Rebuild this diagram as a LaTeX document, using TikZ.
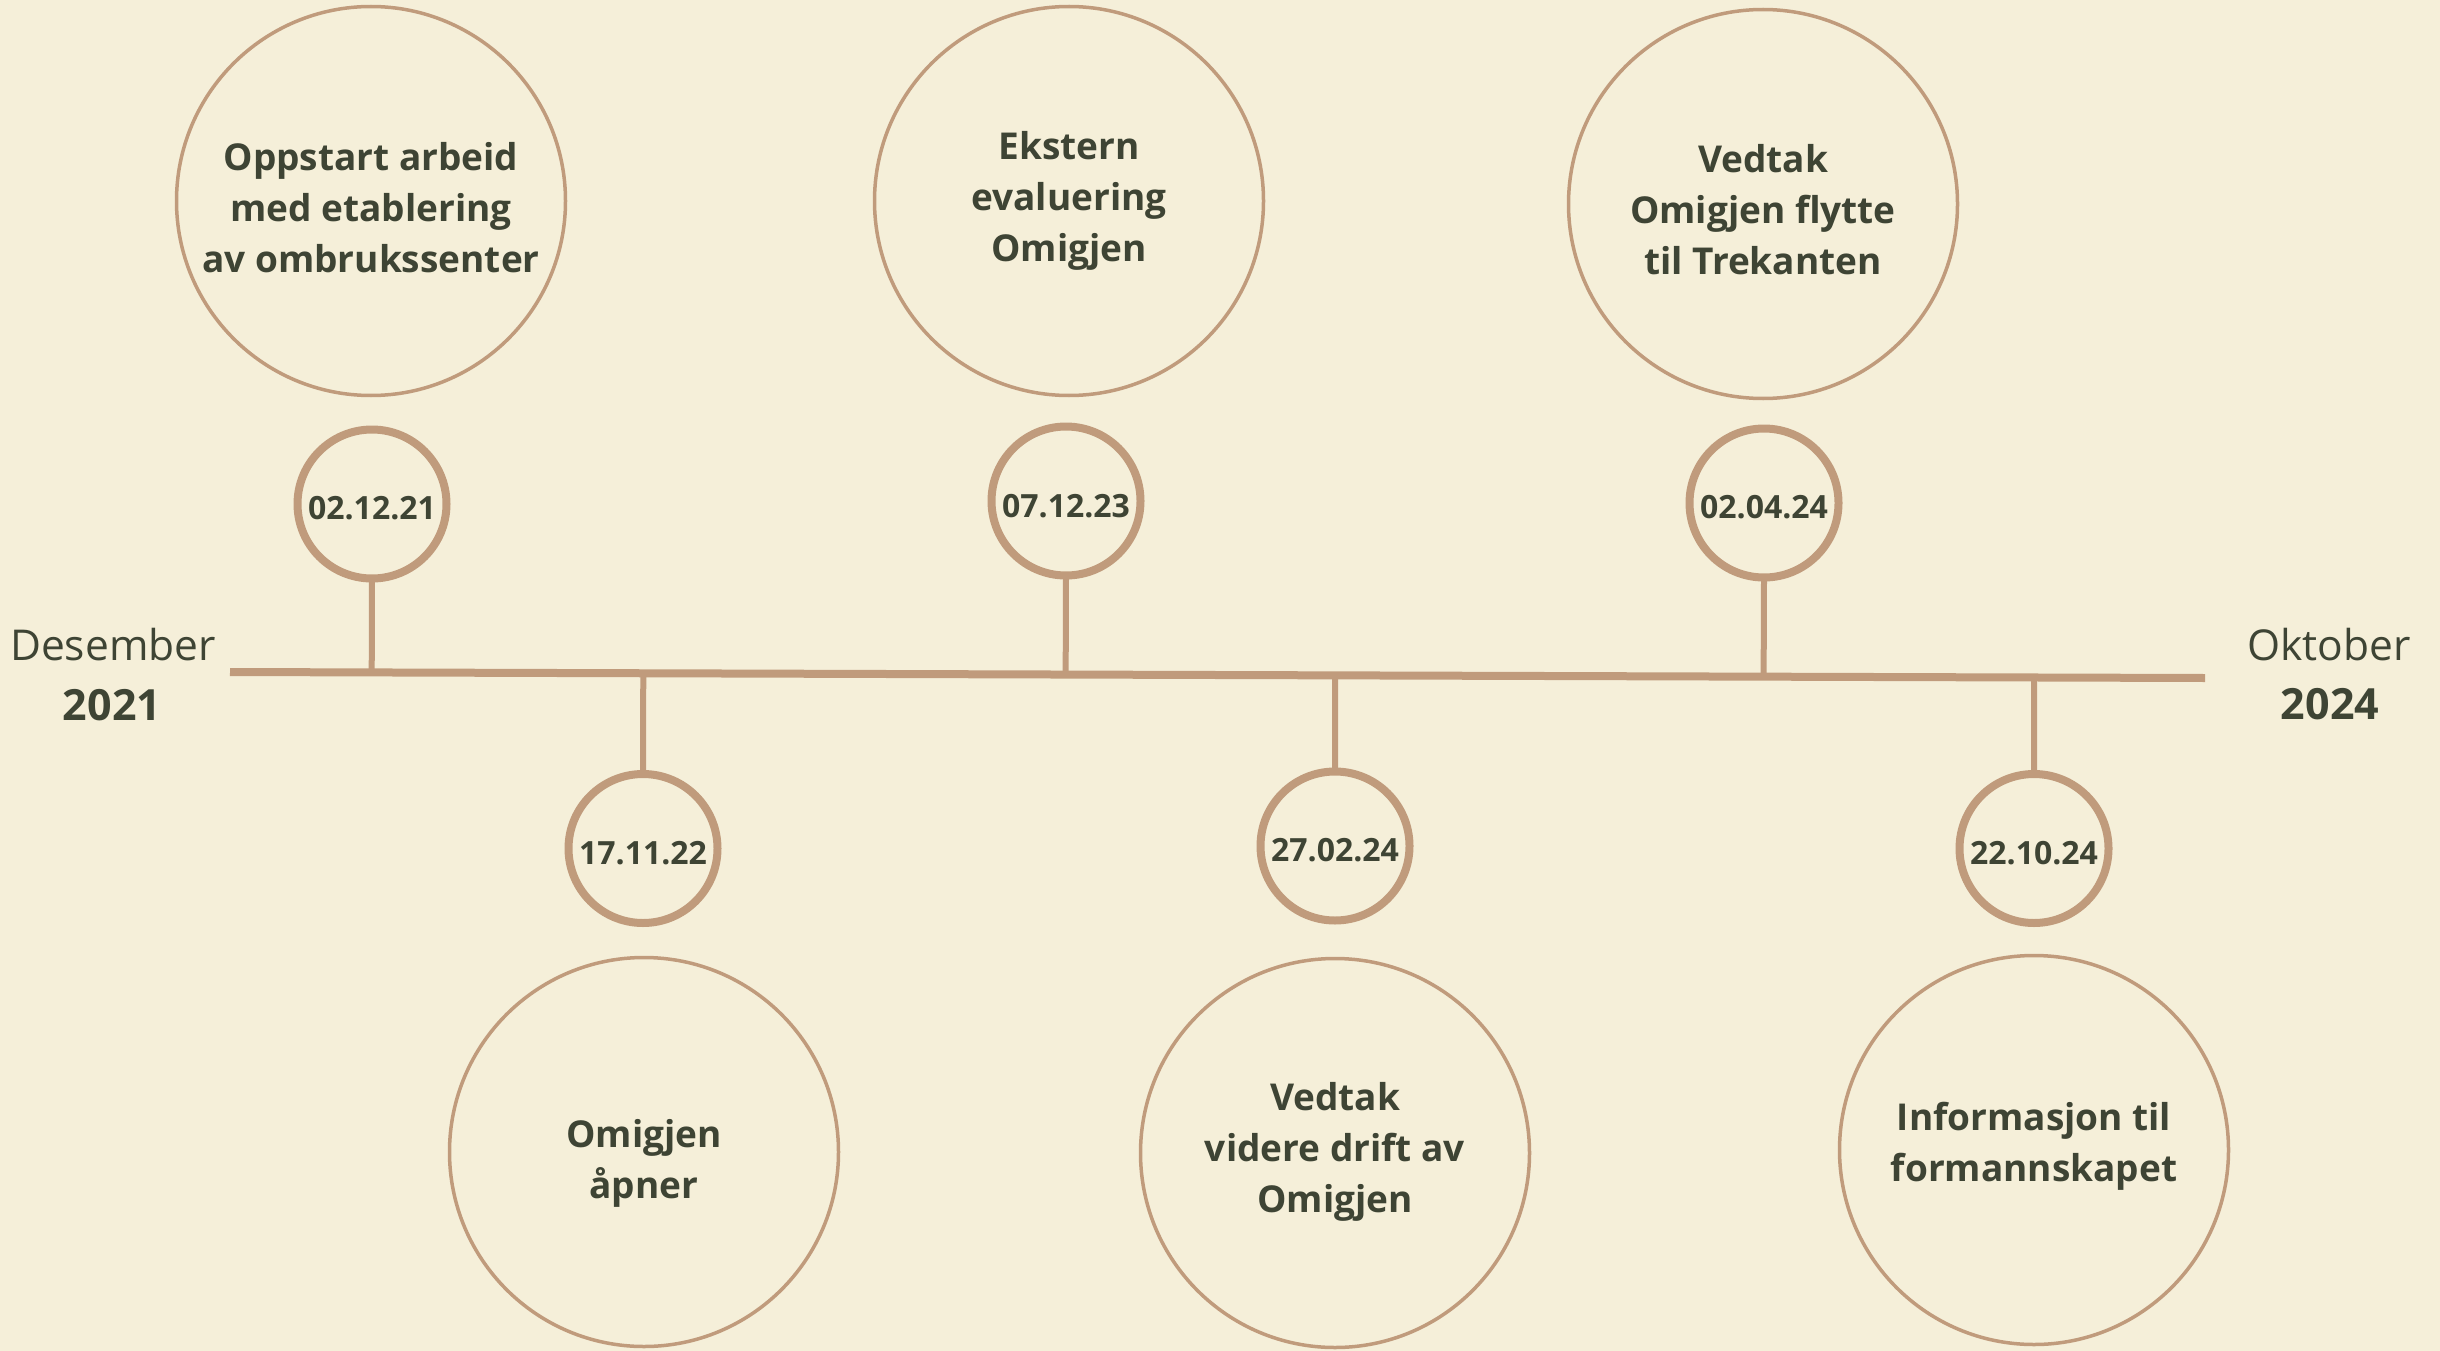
\documentclass[tikz,border=0pt]{standalone}
\usepackage{fontspec}
\setmainfont{Open Sans}
\usetikzlibrary{calc}
\definecolor{bgc}{HTML}{F5EFD9}
\definecolor{tanc}{HTML}{C09B7C}
\definecolor{ink}{HTML}{3E4434}
\begin{document}
\begin{tikzpicture}[x=1pt,y=-1pt,
  big/.style={circle,draw=tanc,line width=3.5pt,minimum size=389pt,inner sep=0pt,outer sep=0pt},
  small/.style={circle,draw=tanc,line width=8pt,minimum size=149pt,inner sep=0pt,outer sep=0pt},
  stem/.style={draw=tanc,line width=6pt},
  axis/.style={draw=tanc,line width=8pt},
  ctext/.style={text=ink,font=\fontsize{37}{51}\selectfont\bfseries,align=center,inner sep=0pt},
  dtext/.style={text=ink,font=\fontsize{32}{38}\selectfont\bfseries,inner sep=0pt},
  month/.style={text=ink,font=\fontsize{42.5}{50}\selectfont,anchor=base,inner sep=0pt},
  year/.style={text=ink,font=\fontsize{43}{50}\selectfont\bfseries,anchor=base,inner sep=0pt}]
\fill[bgc] (0,0) rectangle (2440,1351);
\useasboundingbox (0,0) rectangle (2440,1351);

% timeline
\coordinate (tl) at (230,672);
\coordinate (tr) at (2205,678);
\draw[axis] (tl) -- (tr);

% top events
\node[big] (T1) at (371,201) {};
\node[ctext] (T1t) at (371,208) {Oppstart arbeid\\med etablering\\av ombrukssenter};
\node[small] (S1) at (372,504) {};
\node[dtext] (S1t) at (372,508) {02.12.21};

\node[big] (T2) at (1069,201) {};
\node[ctext] (T2t) at (1069,201) {Ekstern\\evaluering\\Omigjen};
\node[small] (S2) at (1066,501) {};
\node[dtext] (S2t) at (1066,506) {07.12.23};

\node[big] (T3) at (1763,204) {};
\node[ctext] (T3t) at (1763,210) {Vedtak\\Omigjen flytte\\til Trekanten};
\node[small] (S3) at (1764,503) {};
\node[dtext] (S3t) at (1764,507) {02.04.24};

% bottom events
\node[small] (B1) at (643,848.5) {};
\node[dtext] (B1t) at (643,853) {17.11.22};
\node[big] (L1) at (644,1152) {};
\node[ctext] (L1t) at (644,1163) {Omigjen\\åpner};

\node[small] (B2) at (1335,846) {};
\node[dtext] (B2t) at (1335,850) {27.02.24};
\node[big] (L2) at (1335,1153) {};
\node[ctext] (L2t) at (1335,1151.5) {Vedtak\\videre drift av\\Omigjen};

\node[small] (B3) at (2034,848.5) {};
\node[dtext] (B3t) at (2034,853) {22.10.24};
\node[big] (L3) at (2034,1150) {};
\node[ctext] (L3t) at (2034,1146) {Informasjon til\\formannskapet};

% stems
\draw[stem] (S1.south) -- ($(tl)!(S1.south)!(tr)$);
\draw[stem] (S2.south) -- ($(tl)!(S2.south)!(tr)$);
\draw[stem] (S3.south) -- ($(tl)!(S3.south)!(tr)$);
\draw[stem] (B1.north) -- ($(tl)!(B1.north)!(tr)$);
\draw[stem] (B2.north) -- ($(tl)!(B2.north)!(tr)$);
\draw[stem] (B3.north) -- ($(tl)!(B3.north)!(tr)$);

% end labels
\node[month] (m1) at (113,660) {Desember};
\node[year] (y1) at (112,720) {2021};
\node[month] (m2) at (2329,660) {Oktober};
\node[year] (y2) at (2330,719) {2024};
\end{tikzpicture}
\end{document}
